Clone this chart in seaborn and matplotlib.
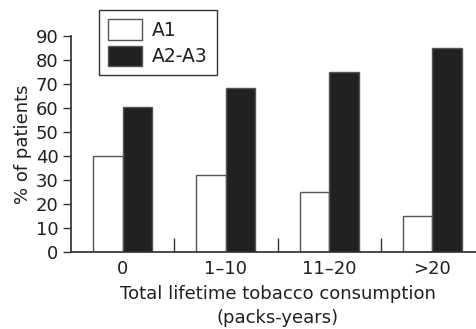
import pandas as pd
import matplotlib
matplotlib.use("Agg")
import matplotlib.pyplot as plt
import seaborn as sns

categories = ["0", "1\u201310", "11\u201320", ">20"]
a1 = [40, 32, 25, 15]
a2_a3 = [60.5, 68.5, 75, 85]
y_ticks = list(range(0, 100, 10))

sns.set_theme(style="ticks")
plt.rcParams["font.family"] = ["DejaVu Sans"]
plt.rcParams["font.size"] = 12
plt.rcParams["text.color"] = "#231f20"
plt.rcParams["axes.labelcolor"] = "#231f20"
plt.rcParams["xtick.labelcolor"] = "#231f20"
plt.rcParams["ytick.labelcolor"] = "#231f20"

df = pd.DataFrame({
    "cat": categories * 2,
    "pct": a1 + a2_a3,
    "grp": ["A1"] * 4 + ["A2-A3"] * 4,
})

fig = plt.figure(figsize=(4.76, 3.29), dpi=100)
ax = fig.add_axes([71 / 476, 77 / 329, 413 / 476, 216 / 329])

sns.barplot(data=df, x="cat", y="pct", hue="grp", order=categories,
            palette={"A1": "white", "A2-A3": "#231f20"}, width=0.57,
            edgecolor="#555555", linewidth=1.0, ax=ax, legend=True)

ax.set_xlim(-0.5, 3.5)
ax.set_ylim(0, 90)
ax.set_yticks(y_ticks)
ax.set_xticks(range(len(categories)))
ax.set_xticklabels(categories)
ax.set_xticks([0.5, 1.5, 2.5], minor=True)
ax.tick_params(axis="x", which="major", length=0, pad=6, labelsize=13)
ax.tick_params(axis="x", which="minor", direction="in", length=10, width=1, color="#333333")
ax.tick_params(axis="y", direction="out", length=6, width=1, labelsize=13, pad=3, color="#333333")

for s in ["top", "right"]:
    ax.spines[s].set_visible(False)
ax.spines["left"].set_color("#333333")
ax.spines["bottom"].set_color("#333333")

ax.set_ylabel("% of patients", fontsize=13, labelpad=3)
ax.set_xlabel("Total lifetime tobacco consumption\n(packs-years)", fontsize=13,
              labelpad=5, linespacing=1.4)

handles, labels = ax.get_legend_handles_labels()
ax.legend(handles, labels, loc="upper left", bbox_to_anchor=(99 / 476, 1 - 10 / 329),
          bbox_transform=fig.transFigure, borderaxespad=0, frameon=True, fancybox=False,
          edgecolor="#333333", framealpha=1, fontsize=13.5, handlelength=1.8,
          handleheight=1.3, borderpad=0.5, labelspacing=0.3, handletextpad=0.5)
ax.get_legend().get_frame().set_linewidth(1.0)

fig.savefig("out.png", dpi=100)
